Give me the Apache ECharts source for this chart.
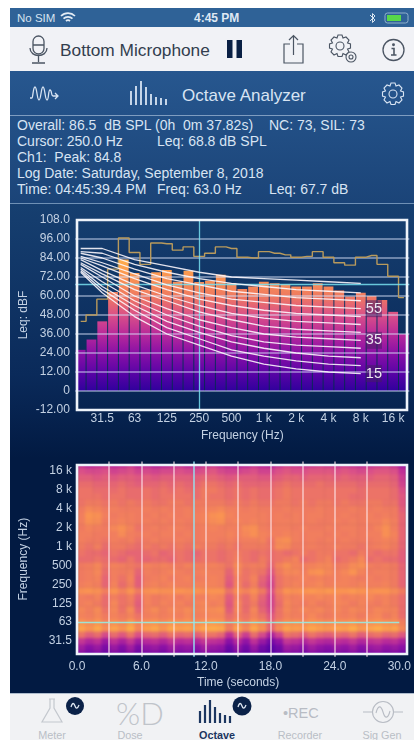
<!DOCTYPE html>
<html><head><meta charset="utf-8">
<script src="https://cdn.jsdelivr.net/npm/echarts@6/dist/echarts.min.js"></script>
<style>
html,body{margin:0;padding:0;background:#fff;width:414px;height:740px;overflow:hidden;font-family:"Liberation Sans",Arial,sans-serif}
body{filter:blur(.45px)}
.a{position:absolute;white-space:pre;line-height:1}
svg.a{overflow:visible}
#chart{position:absolute;left:0;top:0;width:414px;height:740px}
#heatClip{position:absolute;left:77px;top:465px;width:330px;height:189px;overflow:hidden}
#heat{position:absolute;left:-77px;top:-465px;width:414px;height:740px;filter:blur(1.5px)}
.i{font-size:14px;color:#d8e4f3}
.t{font-size:10.8px;color:#b9bec6;transform:translateX(-50%)}
</style></head><body>
<div class="a" style="left:10px;top:8px;width:404px;height:19px;background:#2f6297"></div>
<div class="a" style="left:10px;top:27px;width:404px;height:44px;background:#f1f2f6"></div>
<div class="a" style="left:10px;top:71px;width:404px;height:132px;background:linear-gradient(#27578f,#1b4478)"></div>
<div class="a" style="left:10px;top:115px;width:404px;height:1px;background:#7f9dc0"></div>
<div class="a" style="left:10px;top:203px;width:404px;height:1px;background:#6f90b5"></div>
<div class="a" style="left:10px;top:204px;width:404px;height:489px;background:linear-gradient(#163f70 0,#0a2a5a 35%,#021a42 52%,#021a42 100%)"></div>
<div class="a" style="left:10px;top:693px;width:404px;height:47px;background:#f1f2f4;border-top:1px solid #aebccd;box-sizing:border-box"></div>

<div class="a" style="left:17px;top:13px;font-size:11.5px;color:#d6e2f0">No SIM</div>
<svg class="a" style="left:60px;top:11px" width="16" height="13" fill="none" stroke="#e4ecf5" stroke-width="1.7"><path d="M1 5a10 10 0 0 1 14 0M3.5 7.7a6.5 6.5 0 0 1 9 0M6 10a3 3 0 0 1 4 0"/></svg>
<div class="a" style="left:194px;top:12px;font-size:12px;font-weight:bold;color:#dfe8f3">4:45 PM</div>
<svg class="a" style="left:369px;top:12px" width="40" height="12" fill="none"><path d="M1 3l5 5-2.5 2.5V1.500L6 4 1 9" stroke="#d8e4f0"/><rect x="16" y="1" width="23" height="10" rx="2.500" stroke="#8fb0cc"/><rect x="18" y="3" width="14" height="6" fill="#58d84a"/></svg>

<svg class="a" style="left:28px;top:34px" width="22" height="32" fill="none" stroke="#4b5563" stroke-width="1.3"><rect x="5" y="2" width="11" height="18" rx="5.500"/><path d="M5 11h11M2 14c0 10 17 10 17 0M10.500 22v6M4 29h13"/></svg>
<div class="a" style="left:60px;top:42px;font-size:17.3px;color:#333e4e">Bottom Microphone</div>
<svg class="a" style="left:227px;top:40px" width="16" height="18" fill="#0a2044"><rect width="5.500" height="18"/><rect x="9.500" width="5.500" height="18"/></svg>
<svg class="a" style="left:283px;top:34px" width="22" height="30" fill="none" stroke="#4b5563" stroke-width="1.200"><path d="M7 10H1v19h19V10h-6M10.500 21V2M6 6l4.500-4.500L15 6"/></svg>
<svg class="a" style="left:327px;top:33px" width="32" height="32" fill="none" stroke="#4b5563" stroke-width="1.100"><circle cx="13" cy="13" r="4"/><path d="M11 2h4l1 3 3-1 3 3-1.500 3 3 1v4l-3 1 1.500 3-3 3-3-1.500-1 3h-4l-1-3-3 1.500-3-3 1.500-3-3-1v-4l3-1L4 7l3-3 3 1z"/><circle cx="24" cy="24" r="5" fill="#f1f2f6"/><circle cx="24" cy="24" r="2"/></svg>
<svg class="a" style="left:382px;top:38px" width="24" height="24" fill="none" stroke="#4b5563" stroke-width="1.300"><circle cx="11.500" cy="12" r="10.500"/><path d="M9.500 10.500h2.500v6.500M9 17h5.500" stroke-width="1.600"/><circle cx="11.500" cy="6.800" r=".8" fill="#4b5563"/></svg>

<svg class="a" style="left:30px;top:85px" width="30" height="18" fill="none" stroke="#d8e4f3" stroke-width="1.300"><path d="M0 13h2c1 0 1-11 3-11s2 13 4 13 2-13 4-13 2 13 4 13 1-10 3-10 1 6 3 6h5M25 8l3 3-3 3"/></svg>
<svg class="a" style="left:130px;top:81px" width="40" height="25" stroke="#d8e4f3" stroke-width="1.800"><path d="M1 24V10M6 24V5M11 24V0M16 24V6M21 24V13M26 24V16M31 24V17M36 24V18"/></svg>
<div class="a" style="left:182px;top:87px;font-size:17px;color:#d8e4f3">Octave Analyzer</div>
<svg class="a" style="left:381px;top:82px" width="24" height="24" fill="none" stroke="#d8e4f3" stroke-width="1.100"><circle cx="12" cy="12" r="4"/><path d="M10 1h4l1 3 3-1 3 3-1.500 3 3 1v4l-3 1 1.500 3-3 3-3-1.500-1 3h-4l-1-3-3 1.500-3-3 1.500-3-3-1v-4l3-1L3 6l3-3 3 1z"/></svg>

<div class="a i" style="left:17px;top:118px">Overall: 86.5  dB SPL (0h  0m 37.82s)</div>
<div class="a i" style="left:269px;top:118px">NC: 73, SIL: 73</div>
<div class="a i" style="left:17px;top:134px">Cursor: 250.0 Hz</div>
<div class="a i" style="left:157px;top:134px">Leq: 68.8 dB SPL</div>
<div class="a i" style="left:17px;top:150px">Ch1:  Peak: 84.8</div>
<div class="a i" style="left:17px;top:166px">Log Date: Saturday, September 8, 2018</div>
<div class="a i" style="left:17px;top:182px">Time: 04:45:39.4 PM</div>
<div class="a i" style="left:157px;top:182px">Freq: 63.0 Hz</div>
<div class="a i" style="left:269px;top:182px">Leq: 67.7 dB</div>

<svg class="a" style="left:40px;top:698px" width="24" height="26" fill="none" stroke="#c4c8ce" stroke-width="1.200"><path d="M9 1h6M10 1v9L2 24h20L14 10V1"/></svg>
<div class="a" style="left:116px;top:698px;font-family:Lato;font-weight:300;font-size:31px;color:#c0c4ca">%D</div>
<svg class="a" style="left:198px;top:699px" width="40" height="25" stroke="#1c3660" stroke-width="2.200"><path d="M2 24V12M7 24V6M12 24V1M17 24V8M22 24V14M27 24V16M32 24V17"/></svg>
<div class="a" style="left:283px;top:706px;font-size:14.500px;color:#b8bcc4">•REC</div>
<svg class="a" style="left:363px;top:700px" width="40" height="24" fill="none" stroke="#b8bcc4" stroke-width="1.100"><circle cx="20" cy="12" r="10.500"/><path d="M0 12h9.500M30.500 12H40M13 13c2-8 5-8 7-1s5 7 7-1"/></svg>
<svg class="a" style="left:66px;top:697px" width="18" height="18"><circle cx="9" cy="9" r="9" fill="#0b2248"/><path d="M5 10c1.500-5 3-4 4-1s2.500 3 4-1" fill="none" stroke="#dfe7f2" stroke-width="1.300"/></svg>
<svg class="a" style="left:232px;top:696px" width="20" height="20"><circle cx="10" cy="10" r="9.500" fill="#0b2248"/><path d="M6 11c1.500-5 3-4 4-1s2.500 3 4-1" fill="none" stroke="#dfe7f2" stroke-width="1.300"/></svg>
<div class="a t" style="left:52px;top:730px">Meter</div>
<div class="a t" style="left:130px;top:730px">Dose</div>
<div class="a t" style="left:217px;top:730px;color:#1c3660;font-weight:bold">Octave</div>
<div class="a t" style="left:300px;top:730px">Recorder</div>
<div class="a t" style="left:382px;top:730px">Sig Gen</div>

<div id="heatClip"><div id="heat"></div></div>
<div id="chart"></div>
<script>
const freqLabels = ['20','25','31.5','40','50','63','80','100','125','160','200','250','315','400','500','630','800','1 k','1.25 k','1.6 k','2 k','2.5 k','3.15 k','4 k','5 k','6.3 k','8 k','10 k','12.5 k','16 k','20 k'];
const octaveLabels = ['31.5','63','125','250','500','1 k','2 k','4 k','8 k','16 k'];
const leqValues = [26,32.5,44,62.5,83,74.5,64,75,76.5,69,76,68.8,69.6,73.4,68,64.5,66,69,68,67.5,66,66,68,66,63.5,59.7,62,60,57.4,50,36];
const peakValues = [44,48,58,77,96.6,87.5,80,93.5,93,89,91,85,87,91,90,84.5,84,88,87,86,84.5,85,88,84.5,81,79.5,84.5,85.6,80,72.5,59];
const yTicks = [96,84,72,60,48,36,24,12,0];
const ncBandIndex = [0,2,5,8,11,14,17,20,23,26];
const nc15 = [75,62,47,36,29,22,17,14,12,11];
const nc20 = [76,64,51,40,33,26,22,19,17,16];
const nc25 = [77,66,54,44,37,31,27,24,22,21];
const nc30 = [78,69,57,48,41,35,31,29,28,27];
const nc35 = [80,72,60,52,45,40,36,34,33,32];
const nc40 = [81,74,64,57,50,45,41,39,38,37];
const nc45 = [83,76,67,60,54,49,46,44,43,42];
const nc50 = [84,79,71,64,58,54,51,49,48,47];
const nc55 = [85,81,74,67,62,58,56,54,53,52];
const nc60 = [87,84,77,71,67,63,61,59,58,57];
const nc65 = [88,87,80,75,71,68,66,64,63,62];
const nc70 = [90,90,83,79,75,72,71,70,69,68];
const cursorFreq = '250', cursorLevel = 67.7, cursorTime = 10.9, cursorBand = '63';
const timeLines = [3,6,9,12,15,18,21,24,27];
const colorValues = [84,72,60,48,36,24,12,0,-12];
const colorMap = ['#ffb04a','#fa9352','#ef7a60','#da5088','#b82a9a','#8a10a6','#5c04a6','#30009c','#1a0090'];
// rows from 20 Hz up to 20 kHz, columns every 0.75 s
const spectrogram = [
[24,18,22,16,22,18,24,16,20,22,18,24,20,22,18,24,22,20,12,20,14,22,14,10,16,24,22,18,24,20,18,22,20,24,18,22,24,20,22,18],
[30,24,28,20,28,22,30,20,26,28,24,30,26,28,24,30,28,26,16,26,18,28,18,12,18,30,28,24,30,26,24,28,26,30,24,28,30,26,28,24],
[40,34,38,28,38,32,40,30,36,38,34,40,36,38,34,40,38,36,24,36,26,38,28,18,26,40,38,34,40,36,34,38,36,40,34,38,40,36,38,32],
[58,52,56,46,56,50,58,48,54,56,52,58,54,56,52,58,58,54,38,54,42,56,46,32,44,58,56,52,58,54,52,56,54,58,52,56,58,54,56,50],
[78,72,80,68,78,72,82,66,76,80,72,80,76,78,74,80,82,80,62,78,66,80,70,54,68,78,76,74,80,76,74,78,76,82,74,78,82,76,78,66],
[72,68,72,64,70,66,74,64,70,72,68,72,70,72,68,72,74,72,60,70,62,72,66,54,64,70,70,68,72,70,68,70,70,72,68,70,72,70,70,62],
[64,62,66,60,64,60,64,58,62,64,62,64,62,66,62,64,66,66,56,62,58,64,58,50,58,64,62,62,66,62,60,64,62,64,60,64,66,60,64,56],
[66,62,68,58,66,58,68,54,64,68,62,66,64,68,64,66,68,70,52,66,56,66,54,46,58,66,62,66,64,66,62,66,62,66,64,62,66,64,64,56],
[62,64,60,56,66,58,60,52,64,60,64,62,64,60,64,66,62,64,50,66,56,60,52,44,56,66,62,60,64,60,62,66,64,60,64,62,60,64,60,56],
[62,60,64,56,62,58,62,54,64,60,62,64,60,64,62,62,66,64,52,62,56,64,54,44,58,64,62,64,64,66,64,66,62,64,64,66,62,64,60,56],
[70,72,70,62,72,64,72,60,70,72,70,70,72,70,72,70,72,72,58,70,64,70,60,48,62,72,70,72,74,72,74,72,72,74,72,70,72,72,68,60],
[62,64,62,54,64,56,62,52,62,64,62,64,62,62,64,64,64,62,50,64,56,62,52,44,58,62,64,62,64,66,62,64,64,62,64,62,62,64,60,54],
[60,62,64,54,62,58,64,52,60,62,64,60,62,64,60,62,64,62,52,62,58,64,54,46,58,62,62,64,62,64,62,62,64,62,60,62,60,62,60,54],
[60,62,66,56,62,60,62,54,62,60,62,64,62,60,62,64,62,62,54,66,58,60,58,50,60,66,66,62,70,72,66,62,66,72,64,60,62,62,60,54],
[60,62,66,58,64,62,60,58,64,62,64,62,60,64,62,62,64,62,58,68,60,62,62,54,64,70,64,62,64,66,66,60,62,68,70,62,60,62,60,54],
[56,56,58,56,56,54,58,54,54,56,56,54,58,56,56,58,58,56,58,62,58,56,60,56,58,60,64,56,58,60,64,56,58,60,66,56,58,56,56,52],
[58,56,56,54,58,56,54,54,56,58,54,56,58,56,54,58,58,56,58,60,58,56,58,56,58,56,58,60,58,60,60,58,58,56,60,58,56,58,58,52],
[60,58,62,56,60,60,58,56,60,58,60,58,60,58,62,60,60,58,60,58,60,60,60,58,68,66,60,60,62,60,60,62,60,60,58,60,62,64,60,54],
[62,60,60,58,62,60,62,58,60,62,60,60,62,60,60,62,62,60,62,60,62,62,64,58,68,70,62,60,62,60,62,60,62,60,60,60,62,64,62,54],
[62,62,60,60,62,68,62,60,62,60,62,62,60,62,60,62,62,62,64,62,66,70,64,62,62,64,62,60,62,62,60,62,60,62,60,62,62,70,64,54],
[60,64,62,60,66,70,64,58,60,62,60,62,62,60,60,62,64,62,62,62,68,70,62,60,62,62,60,62,60,60,62,60,62,62,60,60,64,70,62,54],
[62,70,68,60,62,64,62,60,62,60,62,60,62,60,62,64,68,70,62,64,62,64,62,60,62,62,62,60,62,60,60,62,60,62,60,62,62,66,62,54],
[62,72,70,62,60,62,62,60,60,62,60,62,60,62,62,64,70,72,64,62,62,62,62,60,62,60,62,60,62,62,60,60,62,60,60,62,60,62,60,54],
[60,66,64,60,62,60,60,60,62,60,62,60,60,62,60,62,64,66,62,62,60,62,60,60,60,62,60,60,60,62,60,60,60,62,60,60,62,60,60,52],
[58,60,60,58,60,58,60,58,60,58,58,60,60,58,60,60,60,60,58,60,58,60,58,58,60,60,58,60,58,60,60,58,60,58,58,60,60,58,58,50],
[58,58,58,56,58,58,56,56,58,56,58,58,58,58,56,60,58,58,56,58,56,58,56,56,58,60,58,58,58,58,58,58,58,56,56,58,58,58,56,50],
[58,58,56,56,56,58,56,56,58,56,58,56,58,56,56,60,60,58,56,58,56,58,56,56,58,60,58,58,58,58,58,58,58,58,56,58,58,58,56,48],
[56,56,54,54,54,56,54,52,54,54,56,54,56,54,54,58,58,56,54,56,54,54,54,54,56,58,56,56,56,58,56,56,56,56,54,56,56,56,54,44],
[52,52,50,52,50,52,52,50,52,50,52,52,52,52,52,54,54,52,50,52,52,52,50,50,52,54,54,52,54,54,54,52,54,52,52,52,54,54,52,42],
[48,46,46,48,44,46,48,44,46,44,46,46,48,46,46,48,50,46,44,44,46,48,44,44,48,50,48,48,50,50,50,48,50,48,46,48,50,50,48,38],
[40,36,38,40,36,38,42,36,38,34,36,38,40,36,38,40,42,38,36,34,36,40,36,34,40,44,42,40,42,44,42,40,42,40,38,40,42,44,40,30]
];
const timeColumns = spectrogram[0].map((_, c) => String(c));

const textColor = '#c3d1e3', axisFont = 'Liberation Sans';
const barGradient = new echarts.graphic.LinearGradient(0, 220, 0, 410,
  colorValues.map((v, i) => ({offset: (108 - v) / 120, color: colorMap[i]})), true);
const ncSeries = [[nc15,'15'],[nc20],[nc25],[nc30],[nc35,'35'],[nc40],[nc45],[nc50],[nc55,'55'],[nc60],[nc65],[nc70]].map(([vals, lab]) => ({
  type: 'line', xAxisIndex: 0, yAxisIndex: 0, z: 5, symbol: 'none', silent: true,
  data: vals.map((v, i) => [ncBandIndex[i], v]),
  lineStyle: {color: 'rgba(255,250,255,0.88)', width: 1.3},
  endLabel: {show: !!lab, formatter: lab || '', distance: 5, color: '#f0eaf2', fontSize: 14.5, fontFamily: axisFont,
             backgroundColor: 'rgba(70,30,100,0.55)', padding: [1, 0, 1, 0]}
}));
const cellData = [];
spectrogram.forEach((row, b) => row.forEach((v, c) => cellData.push([c, b, v])));
const frame = (x, y, w, h) => ({type: 'rect', z: 50, silent: true, shape: {x, y, width: w, height: h},
  style: {fill: 'transparent', stroke: '#eef3fa', lineWidth: 2.6}});

const heat = echarts.init(document.getElementById('heat'), null, {renderer: 'canvas'});
heat.setOption({
  animation: false,
  grid: {left: 77, top: 461.5, width: 330, height: 195.3},
  xAxis: {type: 'category', data: timeColumns, show: false},
  yAxis: {type: 'category', data: freqLabels, show: false},
  visualMap: {show: false, dimension: 2, min: -12, max: 84, inRange: {color: colorMap.slice().reverse()}},
  series: [{type: 'heatmap', name: 'Spectrogram', data: cellData, progressive: 0, silent: true}]
});

const chart = echarts.init(document.getElementById('chart'), null, {renderer: 'canvas'});
chart.setOption({
  animation: false,
  textStyle: {fontFamily: axisFont},
  grid: [
    {left: 75.3, top: 220, width: 334, height: 190},
    {left: 77, top: 461.5, width: 330, height: 195.3}
  ],
  xAxis: [
    {gridIndex: 0, type: 'category', data: freqLabels,
     axisLine: {show: false}, axisTick: {show: false}, splitLine: {show: false},
     axisLabel: {color: textColor, fontSize: 12, margin: 3, interval: (i, v) => octaveLabels.includes(v)},
     name: 'Frequency (Hz)', nameLocation: 'middle', nameGap: 20, nameTextStyle: {color: textColor, fontSize: 12}},
    {gridIndex: 1, type: 'value', min: 0, max: 30, interval: 6, position: 'bottom',
     axisLine: {show: false}, axisTick: {show: false}, splitLine: {show: false},
     axisLabel: {color: textColor, fontSize: 12, margin: 4, formatter: v => v.toFixed(1)},
     name: 'Time (seconds)', nameLocation: 'middle', nameGap: 20, nameTextStyle: {color: textColor, fontSize: 12}}
  ],
  yAxis: [
    {gridIndex: 0, type: 'value', min: -12, max: 108, interval: 12,
     axisLine: {show: false}, axisTick: {show: false}, splitLine: {show: false},
     axisLabel: {color: textColor, fontSize: 12, margin: 5.5, formatter: v => v === 108 ? '108.0' : v === 0 ? '0' : v.toFixed(2)},
     name: 'Leq: dBF', nameLocation: 'middle', nameGap: 46, nameRotate: 90, nameMoveOverlap: false, nameTextStyle: {color: textColor, fontSize: 12}},
    {gridIndex: 1, type: 'category', data: freqLabels,
     axisLine: {show: false}, axisTick: {show: false}, splitLine: {show: false},
     axisLabel: {color: textColor, fontSize: 12, margin: 5, padding: [2, 0, 0, 0], interval: (i, v) => octaveLabels.includes(v)},
     name: 'Frequency (Hz)', nameLocation: 'middle', nameGap: 47, nameRotate: 90, nameMoveOverlap: false, nameTextStyle: {color: textColor, fontSize: 12}}
  ],
  graphic: [frame(77, 220, 330, 190), frame(77, 465, 330, 189)],
  series: [
    {type: 'bar', name: 'Leq', xAxisIndex: 0, yAxisIndex: 0, data: leqValues, barWidth: 9.8, z: 2, silent: true,
     itemStyle: {color: barGradient}},
    {type: 'line', name: 'Peak', xAxisIndex: 0, yAxisIndex: 0, step: 'middle', data: peakValues, symbol: 'none', z: 4, silent: true,
     lineStyle: {color: '#b99a5c', width: 1.4},
     markLine: {silent: true, symbol: 'none', animation: false, label: {show: false}, z: 3,
       lineStyle: {color: 'rgba(215,222,245,0.62)', width: 1.5, type: 'solid'},
       data: yTicks.map(v => ({yAxis: v}))}},
    {type: 'scatter', name: 'Time grid', xAxisIndex: 1, yAxisIndex: 1, data: [], z: 6, silent: true,
     markLine: {silent: true, symbol: 'none', animation: false, label: {show: false},
       lineStyle: {color: 'rgba(255,232,235,0.72)', width: 1.5, type: 'solid'},
       data: timeLines.map(t => ({xAxis: t})).concat([
         {xAxis: cursorTime, lineStyle: {color: 'rgba(150,225,240,0.9)', width: 1.6, type: 'solid'}},
         {yAxis: cursorBand, lineStyle: {color: 'rgba(150,235,225,0.9)', width: 1.4, type: 'solid'}}
       ])}},
    {type: 'scatter', name: 'Cursor', xAxisIndex: 0, yAxisIndex: 0, data: [], z: 7, silent: true,
     markLine: {silent: true, symbol: 'none', animation: false, label: {show: false},
       lineStyle: {color: 'rgba(120,225,240,0.85)', width: 1.3, type: 'solid'},
       data: [{xAxis: cursorFreq}, {yAxis: cursorLevel}]}}
  ].concat(ncSeries)
});
</script>
</body></html>
